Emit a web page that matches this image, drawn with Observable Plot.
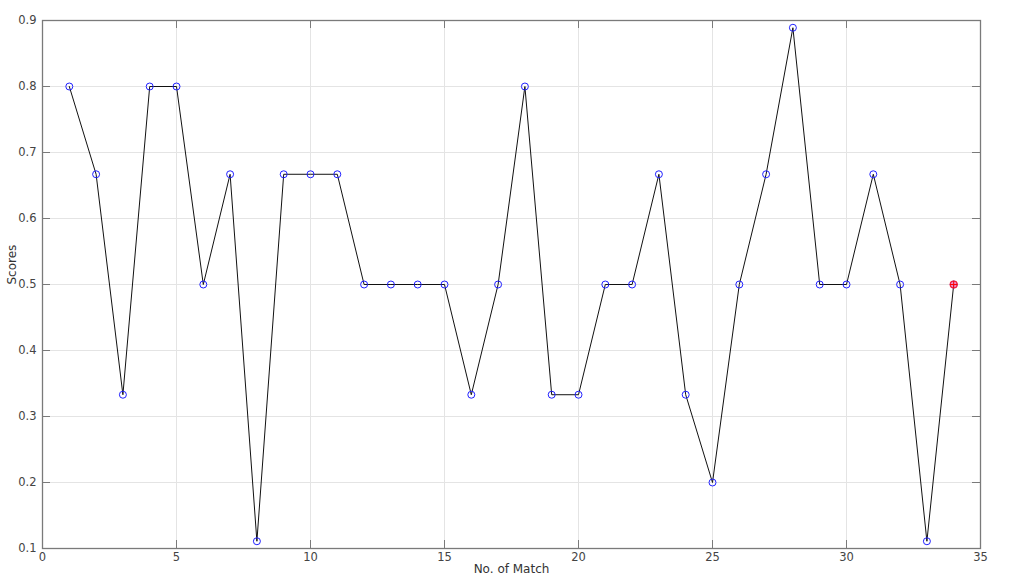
<!DOCTYPE html>
<html>
<head>
<meta charset="utf-8">
<script src="https://cdn.jsdelivr.net/npm/d3@7"></script>
<script src="https://cdn.jsdelivr.net/npm/@observablehq/plot@0.6"></script>
<style>
  html, body { margin: 0; padding: 0; background: #fff; }
  #chart svg { display: block; }
</style>
</head>
<body>
<div id="chart"></div>
<script>
const matches = [1,2,3,4,5,6,7,8,9,10,11,12,13,14,15,16,17,18,19,20,21,22,23,24,25,26,27,28,29,30,31,32,33,34];
const scores = [0.8,0.667,0.333,0.8,0.8,0.5,0.667,0.111,0.667,0.667,0.667,0.5,0.5,0.5,0.5,0.333,0.5,0.8,0.333,0.333,0.5,0.5,0.667,0.333,0.2,0.5,0.667,0.889,0.5,0.5,0.667,0.5,0.111,0.5];
const xTicks = [0,5,10,15,20,25,30,35];
const yTicks = [0.1,0.2,0.3,0.4,0.5,0.6,0.7,0.8,0.9];

const data = matches.map((m, i) => ({match: m, score: scores[i]}));
const last = [data[data.length - 1]];

const W = 1023, H = 585;
const mL = 42, mR = 43, mT = 20, mB = 37;
const plotH = H - mT - mB, plotW = W - mL - mR;
const tk = 8;
const axisColor = "#7a7a7a";

const chart = Plot.plot({
  width: W, height: H,
  marginLeft: mL, marginRight: mR, marginTop: mT, marginBottom: mB,
  style: {fontFamily: "DejaVu Sans, sans-serif", fontSize: "11px", color: "#444", background: "#fff"},
  x: {domain: [0, 35]},
  y: {domain: [0.1, 0.9]},
  marks: [
    Plot.gridX(xTicks, {stroke: "#e4e4e4", strokeOpacity: 1}),
    Plot.gridY(yTicks, {stroke: "#e4e4e4", strokeOpacity: 1}),
    Plot.frame({stroke: axisColor, strokeWidth: 1.3}),
    Plot.tickX(xTicks, {x: d => d, stroke: axisColor, insetTop: plotH - tk}),
    Plot.tickX(xTicks, {x: d => d, stroke: axisColor, insetBottom: plotH - tk}),
    Plot.tickY(yTicks, {y: d => d, stroke: axisColor, insetRight: plotW - tk}),
    Plot.tickY(yTicks, {y: d => d, stroke: axisColor, insetLeft: plotW - tk}),
    Plot.axisX(xTicks, {tickSize: 0, tickPadding: 4, tickFormat: d3.format("d"), fontSize: 11.5,
      label: null, fill: "#444"}),
    Plot.axisY(yTicks, {tickSize: 0, tickPadding: 6, tickFormat: d3.format(".1f"), fontSize: 11.5,
      label: null, fill: "#444"}),
    Plot.text(["No. of Match"], {frameAnchor: "bottom", text: d => d, dy: 24, fontSize: 12, fill: "#333"}),
    Plot.text(["Scores"], {frameAnchor: "left", text: d => d, rotate: -90, dx: -30, fontSize: 12, fill: "#333"}),
    Plot.line(data, {x: "match", y: "score", stroke: "#111", strokeWidth: 1}),
    Plot.dot(data, {x: "match", y: "score", r: 3.5, stroke: "#2020ff", strokeWidth: 1, fill: "none"}),
    Plot.dot(last, {x: "match", y: "score", r: 3.5, stroke: "#ff2030", fill: "#e040a0", fillOpacity: 0.6, strokeWidth: 1.2}),
    Plot.dot(last, {x: "match", y: "score", r: 2.5, symbol: "plus", stroke: "#ff0000", strokeWidth: 1})
  ]
});
document.getElementById("chart").appendChild(chart);
</script>
</body>
</html>
